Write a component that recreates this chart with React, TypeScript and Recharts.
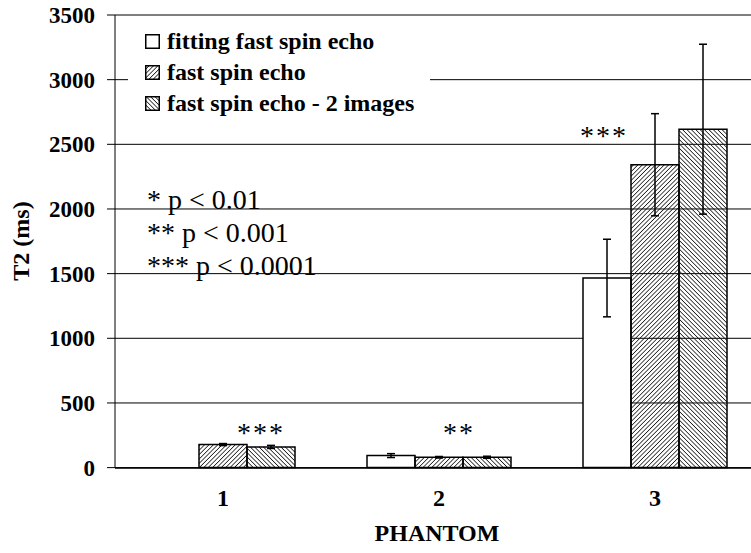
import React from "react";
import { BarChart, Bar, XAxis, YAxis, CartesianGrid, ErrorBar, Legend } from "recharts";

const SERIF = '"Liberation Serif", "Times New Roman", serif';

// values
const categories = ["1", "2", "3"];
const fittingFse = [0, 93, 1466];
const fittingFseErr = [3, 15, 300];
const fastSpinEcho = [178, 80, 2342];
const fastSpinEchoErr = [8, 6, 395];
const fastSpinEcho2 = [160, 80, 2617];
const fastSpinEcho2Err = [12, 8, 657];
const seriesNames = ["fitting fast spin echo", "fast spin echo", "fast spin echo - 2 images"];
const yTicks = [0, 500, 1000, 1500, 2000, 2500, 3000, 3500];
const pValueNotes = ["* p < 0.01", "** p < 0.001", "*** p < 0.0001"];
const significance = ["***", "**", "***"];

const data = categories.map((c, i) => ({
    phantom: c,
    fit: fittingFse[i],
    fitErr: fittingFseErr[i],
    fse: fastSpinEcho[i],
    fseErr: fastSpinEchoErr[i],
    fse2: fastSpinEcho2[i],
    fse2Err: fastSpinEcho2Err[i],
}));

const swatchFills = ["#fff", "url(#lgFwd)", "url(#lgBack)"];

function Swatch({ index }: { index: number }) {
    return (
        <svg width={15} height={15} style={{ display: "block" }}>
            <defs>
                <pattern id="lgFwd" patternUnits="userSpaceOnUse" width="3.1" height="3.1" patternTransform="rotate(45)">
                    <line x1="0" y1="0" x2="0" y2="3.1" stroke="#111" strokeWidth="1.5" />
                </pattern>
                <pattern id="lgBack" patternUnits="userSpaceOnUse" width="3.1" height="3.1" patternTransform="rotate(-45)">
                    <line x1="0" y1="0" x2="0" y2="3.1" stroke="#111" strokeWidth="1.5" />
                </pattern>
            </defs>
            <rect x={0.75} y={0.75} width={13.5} height={13.5} fill={swatchFills[index]} stroke="#000" strokeWidth={1.5} />
        </svg>
    );
}

function LegendBox() {
    return (
        <div style={{ background: "#fff", width: 302, paddingLeft: 17, boxSizing: "border-box" }}>
            {seriesNames.map((name, i) => (
                <div key={name} style={{ display: "flex", alignItems: "center", height: 31 }}>
                    <Swatch index={i} />
                    <span style={{ marginLeft: 7, fontFamily: SERIF, fontWeight: "bold", fontSize: 24, color: "#000", whiteSpace: "nowrap" }}>
                        {name}
                    </span>
                </div>
            ))}
        </div>
    );
}

export default function App() {
    const tickStyle = { fill: "#000", fontSize: 23, fontWeight: "bold", fontFamily: SERIF };
    return (
        <div style={{ position: "absolute", left: 0, top: 0, width: 751, height: 553, overflow: "hidden", background: "#fff" }}>
            <BarChart width={770} height={553} data={data} margin={{ top: 15, right: 7, left: 0, bottom: 0 }} barGap={0} barSize={48}>
                <defs>
                    <pattern id="hatchFwd" patternUnits="userSpaceOnUse" width="3.1" height="3.1" patternTransform="rotate(45)">
                        <line x1="0" y1="0" x2="0" y2="3.1" stroke="#111" strokeWidth="1.5" />
                    </pattern>
                    <pattern id="hatchBack" patternUnits="userSpaceOnUse" width="3.1" height="3.1" patternTransform="rotate(-45)">
                        <line x1="0" y1="0" x2="0" y2="3.1" stroke="#111" strokeWidth="1.5" />
                    </pattern>
                </defs>
                <CartesianGrid vertical={false} stroke="#000" strokeWidth={1} />
                <XAxis
                    xAxisId="bounds"
                    type="number"
                    domain={[0, 3]}
                    ticks={[0, 1, 2, 3]}
                    height={0}
                    tickSize={6}
                    tickFormatter={() => ""}
                    axisLine={false}
                    tickLine={{ stroke: "#000" }}
                />
                <XAxis
                    dataKey="phantom"
                    height={85}
                    tickSize={0}
                    tickLine={false}
                    tickMargin={21}
                    axisLine={{ stroke: "#000", strokeWidth: 1 }}
                    tick={{ ...tickStyle, fontSize: 24 }}
                />
                <YAxis
                    domain={[0, 3500]}
                    ticks={yTicks}
                    width={115}
                    tickSize={8}
                    tickMargin={12}
                    interval={0}
                    axisLine={{ stroke: "#000", strokeWidth: 1 }}
                    tickLine={{ stroke: "#000" }}
                    tick={tickStyle}
                />
                <Legend layout="vertical" align="center" verticalAlign="middle" content={() => <LegendBox />} wrapperStyle={{ left: 128, top: 26, width: 302 }} />
                <Bar dataKey="fit" name={seriesNames[0]} fill="#fff" stroke="#000" strokeWidth={1.5} isAnimationActive={false}>
                    <ErrorBar dataKey="fitErr" width={4} stroke="#000" strokeWidth={1.5} direction="y" />
                </Bar>
                <Bar dataKey="fse" name={seriesNames[1]} fill="url(#hatchFwd)" stroke="#000" strokeWidth={1.5} isAnimationActive={false}>
                    <ErrorBar dataKey="fseErr" width={4} stroke="#000" strokeWidth={1.5} direction="y" />
                </Bar>
                <Bar dataKey="fse2" name={seriesNames[2]} fill="url(#hatchBack)" stroke="#000" strokeWidth={1.5} isAnimationActive={false}>
                    <ErrorBar dataKey="fse2Err" width={4} stroke="#000" strokeWidth={1.5} direction="y" />
                </Bar>
            </BarChart>
            {/* titles and annotations */}
            <svg width={751} height={553} style={{ position: "absolute", left: 0, top: 0, pointerEvents: "none" }}>
                <text x={29} y={241} transform="rotate(-90 29 241)" textAnchor="middle" fontFamily={SERIF} fontWeight="bold" fontSize={24} fill="#000">
                    T2 (ms)
                </text>
                <text x={437} y={541} textAnchor="middle" fontFamily={SERIF} fontWeight="bold" fontSize={24} fill="#000">
                    PHANTOM
                </text>
                {pValueNotes.map((t, i) => (
                    <text key={t} x={147} y={209 + i * 33} fontFamily={SERIF} fontSize={28} fill="#000">
                        {t}
                    </text>
                ))}
                <text x={237} y={442} fontFamily={SERIF} fontSize={28} letterSpacing={2} fill="#000">{significance[0]}</text>
                <text x={443} y={442} fontFamily={SERIF} fontSize={28} letterSpacing={2} fill="#000">{significance[1]}</text>
                <text x={580} y={145} fontFamily={SERIF} fontSize={28} letterSpacing={2} fill="#000">{significance[2]}</text>
            </svg>
        </div>
    );
}
